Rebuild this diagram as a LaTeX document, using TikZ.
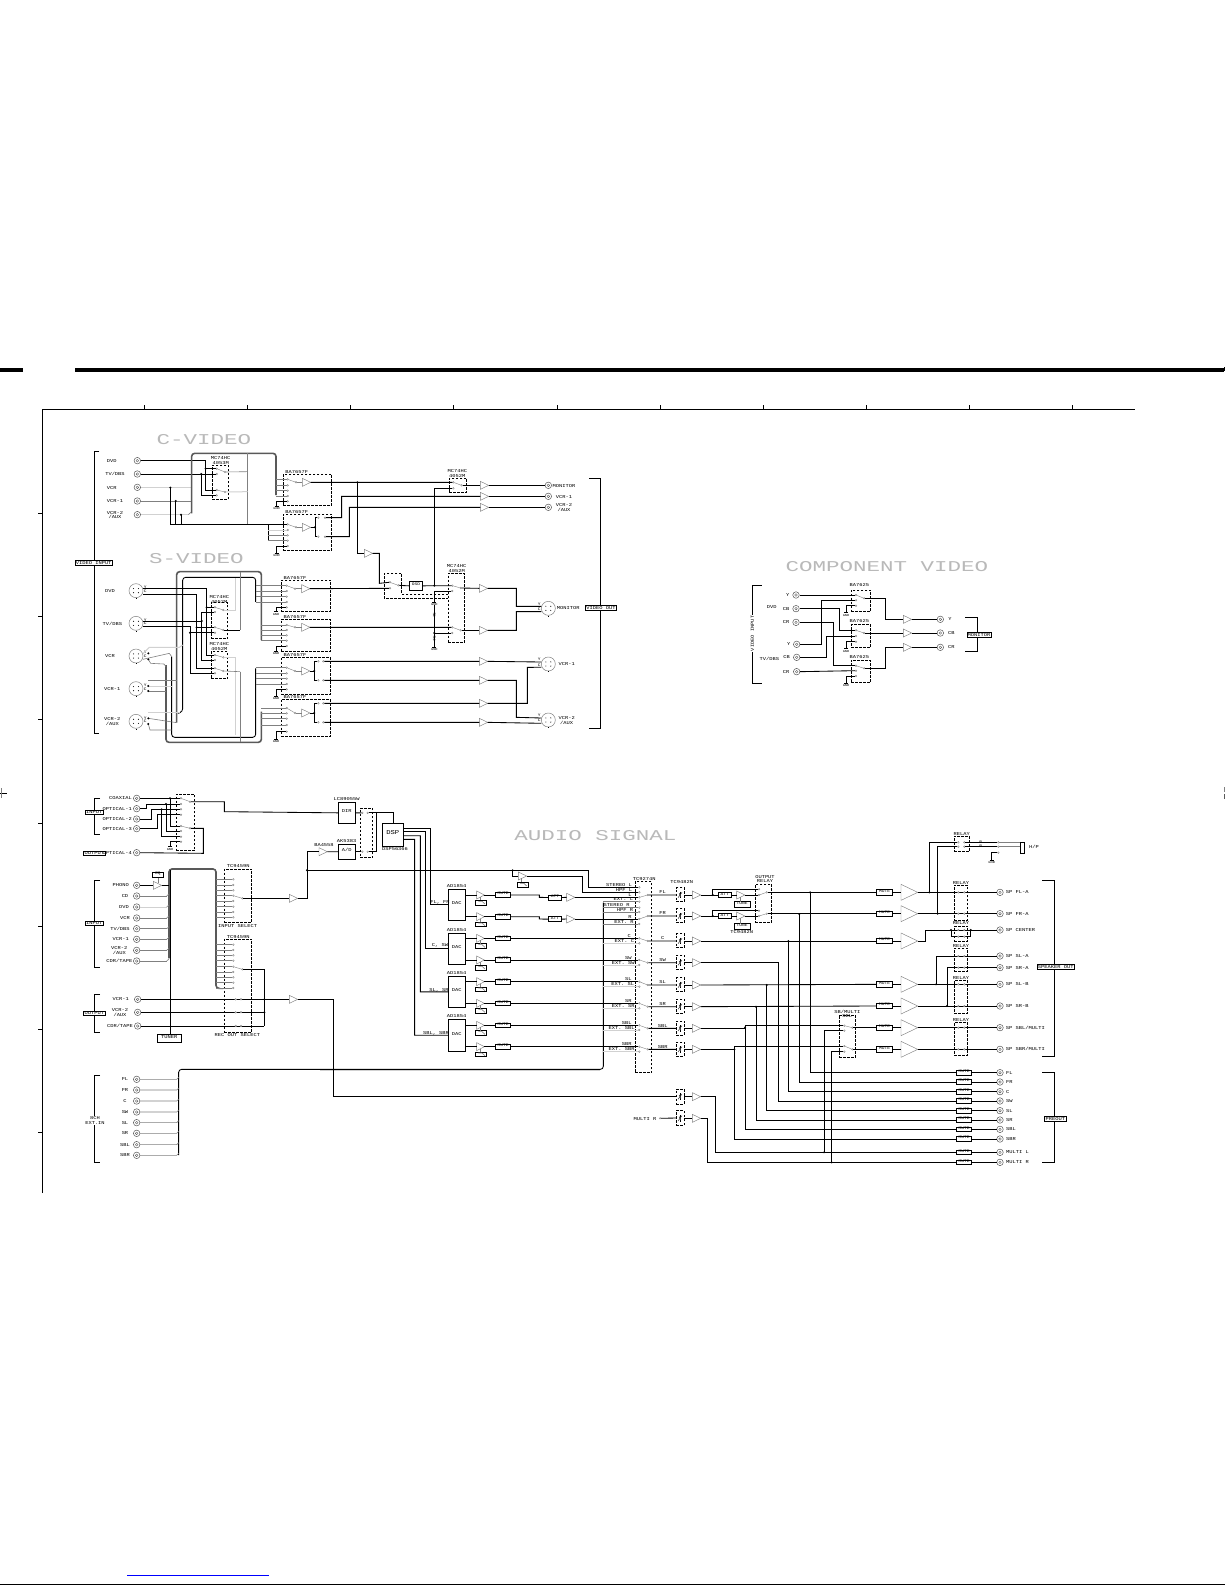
\documentclass[tikz,border=0pt]{standalone}
\usepackage{fontspec}
\usetikzlibrary{fit}
\setmainfont{Liberation Sans}
\newfontfamily\monof[FakeStretch=1.2]{Liberation Mono}
\newfontfamily\ttlf[FakeStretch=1.5]{Liberation Mono}
\newcommand\lblf{\fontsize{4.5}{4.4}\selectfont\monof}
\newcommand\smlf{\fontsize{3.8}{3.6}\selectfont\monof}
\definecolor{busc}{gray}{.35}
\definecolor{midg}{gray}{.5}
\definecolor{ligg}{gray}{.82}
\tikzset{
 Z/.style 2 args={shift={(#1pt,-#2pt)},x=.33333pt,y=-.33333pt},
 w/.style={line width=.85pt,black},
 wg/.style={line width=.6pt,midg},
 wl/.style={line width=1pt,ligg},
 busl/.style={line width=1.6pt,busc},
 busk/.style={line width=1.4pt,black},
 br/.style={line width=.8pt,black},
 db/.style={draw,dash pattern=on 2.6pt off 1.4pt,line width=.7pt,inner sep=0pt},
 sb/.style={draw,line width=.8pt,fill=white,inner sep=0pt,font=\lblf},
 tag/.style={draw,line width=.7pt,fill=white,inner sep=.8pt,font=\lblf},
 lbl/.style={inner sep=0pt,font=\lblf,align=center,black},
 lbs/.style={inner sep=0pt,font=\smlf,align=center,black},
 ttl/.style={inner sep=0pt,font=\fontsize{15}{15}\selectfont\ttlf,gray!55},
 jack/.style={circle,draw=busc,line width=.5pt,minimum size=6.5pt,inner sep=0pt,fill=white},
 jacki/.style={circle,draw=busc,line width=.4pt,minimum size=2.6pt,inner sep=0pt},
 sjack/.style={circle,draw=midg,line width=.5pt,minimum size=14pt,inner sep=0pt,fill=white},
 pinn/.style={circle,draw=midg,line width=.35pt,minimum size=1.7pt,inner sep=0pt,fill=white},
 arm/.style={line width=.4pt,midg},
 ampl/.style={line width=.45pt,draw=midg,fill=white},
}
\newcounter{lbn}
\newcommand\Lb[2]{\stepcounter{lbn}\node[lbl] (L\arabic{lbn}) at (#1) {#2};}
\newcommand\Ls[2]{\stepcounter{lbn}\node[lbs] (L\arabic{lbn}) at (#1) {#2};}
\newcommand\Jack[2]{\node[jack] (#1) at (#2) {}; \node[jacki] (#1i) at (#1) {};}
\newcommand\SJack[2]{\node[sjack] (#1) at (#2) {};
 \foreach \aa in {40,140,220,320}{\fill[black] ([shift={(\aa:3.2pt)}]#1.center) circle (.55pt);}
 \coordinate (#1Y) at ([shift={(7pt,2.3pt)}]#1.center);
 \coordinate (#1C) at ([shift={(7pt,-3.3pt)}]#1.center);
 \coordinate (#1y) at ([shift={(-7pt,2pt)}]#1.center);
 \coordinate (#1c) at ([shift={(-7pt,-3.3pt)}]#1.center);
 \draw[line width=.5pt] (#1.south) -- ++(0pt,-.8pt);}
\newcommand\Pin[2]{\node[pinn] (#1) at (#2) {};}
\newcommand\Dt[1]{\fill[black] (#1) circle (1.1pt);}
\newcommand\DBox[3]{\node[db,fit={(#2)(#3)}] (#1) {};}
\newcommand\BoxT[4]{\node[sb,fit={(#2)(#3)}] (#1) {#4};}
\newcommand\Amp[4]{\coordinate (#1i) at (#2);
 \draw[ampl] (#1i) ++(0pt,#3pt) -- ++(#4pt,-#3pt) -- ++(-#4pt,-#3pt) -- cycle;
 \coordinate (#1) at ([xshift=#4pt]#1i);}
\newcommand\Gnd[1]{\draw[line width=1pt] ([xshift=-2pt]#1) -- ([xshift=2pt]#1);
 \stepcounter{lbn}\node[inner sep=0pt,font=\fontsize{3}{3}\selectfont\monof] (L\arabic{lbn}) at ([yshift=-2.4pt]#1) {GND};}
\newcommand\VR[2]{\draw[line width=.5pt] (#1,#2-10) -- (#1,#2+10);
 \draw[line width=.5pt,black!80] (#1-6,#2+8) -- (#1+6,#2-8);
 \draw[line width=.9pt,black!70] (#1-2,#2-5) -- (#1+2,#2+5);}
\begin{document}
\begin{tikzpicture}[x=1pt,y=-1pt]
\useasboundingbox (0,0) rectangle (1225,1585);
\fill[white] (0,0) rectangle (1225,1585);
% page furniture
\fill[black] (0,368) rectangle (23,372);
\fill[black] (74.7,368) rectangle (1224,372);
\fill[black] (1223.5,367) rectangle (1225,371);
\draw[line width=1pt] (42.5,1193) -- (42.5,409.5) -- (1135,409.5);
\foreach \x in {144.5,247.5,350.5,453.7,557,660,763,866,969,1072.3}{\draw[line width=.9pt] (\x,405) -- (\x,409);}
\foreach \y in {513,616,719,823,926,1029,1132}{\draw[line width=.9pt] (38,\y) -- (42,\y);}
\draw[line width=.7pt] (0,793) -- (7,793);
\draw[line width=.8pt,midg] (1,788) -- (1,798);
\draw[line width=1pt,midg] (1224,787) -- (1224,792);
\draw[line width=1pt,busc] (1224,794) -- (1224,799);
\draw[blue,line width=1pt] (127,1575) -- (269,1575);
\draw[line width=1pt] (0,1584) -- (1225,1584);
\node[ttl] (tC) at (204,440) {C-VIDEO};
\node[ttl] (tS) at (196.5,559) {S-VIDEO};
\node[ttl] (tK) at (887,567) {COMPONENT VIDEO};
\node[ttl] (tA) at (595.5,836) {AUDIO SIGNAL};

%%%%%%%%%%%%%%%%%% VIDEO LEFT
\begin{scope}[Z={60}{410}]
\draw[br] (118,125) -- (103,125) -- (103,970) -- (118,970);
\foreach \n/\y/\t/\lx in {1/152/DVD/155,2/192/{TV/DBS}/165,3/232/VCR/155,4/273/VCR-1/165,5/314/{VCR-2\\/AUX}/165}{
 \Jack{cJ\n}{232,\y}\Lb{\lx,\y+1}{\t}}
\node[tag] (tVI) at (101,459) {VIDEO INPUT};
\DBox{cSw}{457,166}{505,268}\Lb{482,152}{MC74HC\\4053M}
\Pin{cP1}{470,176}\Pin{cP2}{470,192}\Pin{cP3}{470,240}\Pin{cP4}{470,256}\Pin{cO1}{495,186}\Pin{cO2}{495,246}
\draw[arm] (cP1)--(cO1); \draw[arm] (cP3)--(cO2);
\draw[w] (cJ1.east) -| (437,240) -- (cP3.west);
\draw[w] (437,176) -- (cP1.west); \Dt{437,176}
\draw[w] (cJ2.east) -- (cP2.west);
\draw[w] (424,192) |- (cP4.west); \Dt{424,192}
\draw[wl] (cJ3.east) -- (395,232);
\draw[wg] (cJ4.east) -- (395,273);
\draw[wl] (cJ5.east) -- (385,314);
\draw[wg] (385,314) -- (395,305);
\draw[busl,rounded corners=3pt] (395,310) -- (395,130) -- (648,130) -- (648,255);
\draw[wg] (563,130) -- (563,343);
\draw[wg] (cO1) -- (563,185);
\draw[wl] (cO2) -- (563,245);
\draw[w] (331,233) -- (331,343) -- (625,343);\Dt{331,233}
\draw[w] (347,273) -- (347,343);\Dt{347,273}
\draw[w] (363,314) -- (363,343);\Dt{363,314}
% C sw1
\DBox{vs1}{670,193}{815,287}\Lb{710,187}{BA7657F}
\foreach \i/\y in {1/208,2/226,3/242,4/258,5/274}{\Pin{vs1p\i}{683,\y}}
\foreach \i/\y in {1/208,2/226,3/242,4/258}{\draw[wg] (648,\y) -- (vs1p\i.west);}
\draw[w] (vs1p5.west) -- (650,274) -- (650,288); \Gnd{650,288}
\Pin{vs1o}{708,217}\draw[arm] (vs1p1)--(vs1o);
\Amp{va1}{727,217}{4}{8.3}\draw[arm] (vs1o)--(va1i);
% C sw2
\DBox{vs2}{670,312}{815,421}\Lb{710,305}{BA7657F}
\foreach \i/\y in {1/343,2/360,3/376,4/392,5/408}{\Pin{vs2p\i}{683,\y}}
\draw[w] (625,343) -- (vs2p1.west);
\draw[busk] (625,343) -- (625,392);
\draw[wl] (625,360) -- (vs2p2.west);
\draw[wg] (625,376) -- (vs2p3.west);
\draw[wg] (625,392) -- (vs2p4.west);
\draw[w] (vs2p5.west) -- (650,408) -- (650,430); \Gnd{650,430}
\Pin{vs2o}{708,352}\draw[arm] (vs2p1)--(vs2o);
\Amp{va2}{727,352}{4}{8.3}\draw[arm] (vs2o)--(va2i);
\Pin{vs2u}{775,323}\Pin{vs2v}{795,323}\Pin{vs2s}{775,380}\Pin{vs2t}{795,380}
\draw[w] (va2) -- (765,352) -- (765,323) -- (vs2u.west); \Dt{765,352}
\draw[w] (765,352) -- (765,380) -- (vs2s.west);
% S-video
\foreach \n/\y/\t/\lx in {1/542/DVD/150,2/640/{TV/DBS}/157,3/738/VCR/150,4/836/VCR-1/157,5/934/{VCR-2\\/AUX}/157}{
 \SJack{sJ\n}{228,\y}\Lb{\lx,\y+1}{\t}\Ls{256,\y-10}{Y}\Ls{256,\y+1}{C}}
\draw[busl,rounded corners=3pt] (350,938) -- (350,485) -- (604,485) -- (604,690);
\draw[busl,rounded corners=3pt] (318,765) -- (318,997) -- (604,997) -- (604,905);
\draw[w,rounded corners=3pt] (360,908) -- (368,905) -- (368,502) -- (587,502) -- (587,575);
\draw[w,rounded corners=3pt] (335,740) -- (335,982) -- (587,982) -- (587,775);
\draw[busk] (587,525) -- (587,575);
\draw[busk] (587,780) -- (587,825);
\draw[wg] (540,485) -- (540,660);
\draw[wg] (540,785) -- (540,997);
% s input switch
\DBox{sSa}{453,578}{503,686}\Lb{478,568}{MC74HC\\4052M}
\DBox{sSb}{453,725}{503,806}\Lb{478,710}{MC74HC\\4052M}
\foreach \n/\y in {a/592,b/606,c/652,d/668,e/735,f/750,g/775,h/790}{\Pin{sP\n}{465,\y}}
\Pin{sOa}{490,600}\Pin{sOb}{490,660}\Pin{sOc}{490,742}\Pin{sOd}{490,783}
\draw[arm](sPa)--(sOa);\draw[arm](sPc)--(sOb);\draw[arm](sPe)--(sOc);\draw[arm](sPg)--(sOd);
\draw[wl] (sOa) -- (525,600) -- (525,505);
\draw[w] (sOb) -- (540,660);
\draw[wl] (sOc) -- (525,742) -- (525,975);
\draw[wg] (sOd) -- (540,785);
\draw[w] (sJ1Y) -| (440,735) -- (sPe.west); \draw[w] (440,592) -- (sPa.west); \Dt{440,592}
\draw[w] (sJ1C) -| (410,775) -- (sPg.west); \draw[w] (410,652) -- (sPc.west); \Dt{410,652}
\draw[w] (sJ2Y) -| (425,750) -- (sPf.west); \draw[w] (425,633) -- (425,606) -- (sPb.west); \Dt{425,633}
\draw[w] (sJ2C) -| (390,790) -- (sPh.west); \draw[w] (390,668) -- (sPd.west); \Dt{390,668}
% vcr wiring
\draw[wl] (sJ3Y) -- (268,712) -- (358,712) -- (368,705);
\draw[wg] (sJ3C) -- (328,730) -- (335,740); \Dt{265,730}
\draw[wg] (265,748) -- (272,760) -- (312,762) -- (318,770); \Dt{265,748}
\draw[wg] (265,810) -- (350,810);
\draw[wl] (265,828) -- (335,828); \Dt{265,828}
\draw[wg] (265,843) -- (318,843); \Dt{265,843}
\draw[wl] (265,908) -- (360,908);
\draw[wg] (265,925) -- (350,938); \Dt{265,925}
\draw[wg] (265,942) -- (270,960) -- (335,960); \Dt{265,942}
% s switches
\DBox{vs3}{664,510}{812,604}\Lb{705,503}{BA7657F}
\foreach \i/\y in {1/527,2/543,3/560,4/576,5/592}{\Pin{vs3p\i}{680,\y}}
\foreach \i/\y in {1/527,2/543,3/560,4/576}{\draw[wg] (587,\y) -- (vs3p\i.west);}
\draw[w] (vs3p5.west) -- (648,592) -- (648,605); \Gnd{648,605}
\Pin{vs3o}{705,536}\draw[arm](vs3p1)--(vs3o);\Amp{va3}{725,536}{4}{8.3}\draw[arm](vs3o)--(va3i);
\DBox{vs4}{664,628}{812,724}\Lb{705,621}{BA7657F}
\foreach \i/\y in {1/645,2/660,3/676,4/692,5/708}{\Pin{vs4p\i}{680,\y}}
\foreach \i/\y in {1/645,2/660,3/676,4/692}{\draw[wg] (604,\y) -- (vs4p\i.west);}
\draw[w] (vs4p5.west) -- (648,708) -- (648,722); \Gnd{648,724}
\Pin{vs4o}{705,652}\draw[arm](vs4p1)--(vs4o);\Amp{va4}{725,652}{4}{8.3}\draw[arm](vs4o)--(va4i);
\DBox{vs5}{664,742}{812,853}\Lb{705,735}{BA7657F}
\foreach \i/\y in {1/773,2/790,3/806,4/822,5/838}{\Pin{vs5p\i}{680,\y}}
\foreach \i/\y in {1/773,2/790,3/806,4/822}{\draw[wg] (587,\y) -- (vs5p\i.west);}
\draw[w] (vs5p5.west) -- (648,838) -- (648,858); \Gnd{648,858}
\Pin{vs5o}{705,783}\draw[arm](vs5p1)--(vs5o);\Amp{va5}{725,783}{4}{8.3}\draw[arm](vs5o)--(va5i);
\Pin{vs5u}{775,754}\Pin{vs5v}{790,754}\Pin{vs5s}{775,811}\Pin{vs5t}{790,811}
\draw[w] (va5) -- (763,783) -- (763,754) -- (vs5u.west);\Dt{763,783}
\draw[w] (763,783) -- (763,811) -- (vs5s.west);
\DBox{vs6}{664,868}{812,979}\Lb{705,861}{BA7657F}
\foreach \i/\y in {1/894,2/910,3/926,4/945,5/965}{\Pin{vs6p\i}{680,\y}}
\foreach \i/\y in {1/894,2/910,3/926,4/945}{\draw[wg] (604,\y) -- (vs6p\i.west);}
\draw[w] (vs6p5.west) -- (648,965) -- (648,988); \Gnd{648,988}
\Pin{vs6o}{705,909}\draw[arm](vs6p1)--(vs6o);\Amp{va6}{725,909}{4}{8.3}\draw[arm](vs6o)--(va6i);
\Pin{vs6u}{775,880}\Pin{vs6v}{790,880}\Pin{vs6s}{775,937}\Pin{vs6t}{790,937}
\draw[w] (va6) -- (763,909) -- (763,880) -- (vs6u.west);\Dt{763,909}
\draw[w] (763,909) -- (763,937) -- (vs6s.west);
\end{scope}

%%%%%%%%%%%%%%%%%% VIDEO RIGHT
\begin{scope}[Z={340}{450}]
\DBox{mSw}{328,85}{380,128}\Lb{352,70}{MC74HC\\4052M}
\Pin{mA}{340,97}\Pin{mB}{340,115}\Pin{mO}{365,106}
\draw[arm](mA)--(mO);
\Amp{ma1}{421,106}{4}{8.3}\draw[w] (mO) -- (ma1i);
\Amp{ma2}{421,139}{4}{8.3}\Amp{ma3}{421,172}{4}{8.3}
\foreach \n/\y/\t in {1/106/MONITOR,2/139/VCR-1,3/172/{VCR-2\\/AUX}}{
 \Jack{oJ\n}{625,\y}\Lb{672,\y+1}{\t}\draw[w] (ma\n) -- (oJ\n.west);}
\draw[w] (va1) -- (mA.west);
\Dt{52,97}
\draw[w] (vs2v) -- (5,203) -- (5,139) -- (ma2i);
\draw[w] (vs2t) -- (28,260) -- (28,172) -- (ma3i);
\Amp{ka}{73,310}{4}{8.3}
\draw[w] (52,97) -- (52,310) -- (kai);
\Pin{lsA}{150,397}\Pin{lsB}{150,415}\Pin{lsO}{175,406}
\draw[arm](lsA)--(lsO);
\draw[w] (ka) -- (118,310) -- (118,400) -- (lsA.west);
\draw[w] (va3) -- (lsB.west);
\BoxT{osd}{208,394}{248,421}{\smlf OSD}
\draw[w] (lsO) -- (osd.west);
\DBox{moS}{325,370}{374,577}
\draw[line width=.7pt,dash pattern=on 2.6pt off 1.4pt] (325,433) -- (185,433) -- (185,370) -- (133,370) -- (133,445) -- (325,445);
\Lb{350,355}{MC74HC\\4052M}
\Pin{moA}{337,407}\Pin{moB}{337,423}\Pin{moC}{337,532}\Pin{moD}{337,549}\Pin{moE}{362,414}\Pin{moF}{362,541}
\draw[arm](moA)--(moE);\draw[arm](moC)--(moF);
\draw[w] (osd.east) -- (moA.west); \Dt{283,407}
\draw[w] (283,407) -- (283,115) -- (mB.west);
\draw[w] (moB.west) -- (283,423) -- (283,455); \Gnd{283,456}
\draw[line width=.6pt] (283,466) -- (283,592); \Gnd{283,592}
\Ls{283,495}{\rotatebox{90}{75}}\Ls{283,565}{\rotatebox{90}{75}}
\Dt{283,549}
\draw[w] (283,549) -- (moD.west);
\draw[w] (va4) -- (moC.west);
\foreach \n/\y in {1/415,2/541,3/634,4/691,5/760,6/817}{\Amp{mb\n}{418,\y}{4}{8.3}}
\draw[w] (moE) -- (mb1i); \draw[w] (moF) -- (mb2i);
\draw[w] (vs5v) -- (mb3i); \draw[w] (vs5t) -- (mb4i);
\draw[w] (vs6v) -- (mb5i); \draw[w] (vs6t) -- (mb6i);
\SJack{oS1}{625,475}\SJack{oS2}{625,642}\SJack{oS3}{625,810}
\Lb{685,475}{MONITOR}\Lb{680,643}{VCR-1}\Lb{680,811}{VCR-2\\/AUX}
\Ls{598,462}{Y}\Ls{598,478}{C}\Ls{598,628}{Y}\Ls{598,645}{C}\Ls{598,796}{Y}\Ls{598,812}{C}
\draw[w] (mb1) -- (529,415) -- (529,469) -- (oS1y);
\draw[w] (mb2) -- (529,541) -- (529,485) -- (oS1c);
\draw[w] (mb3) -- (oS2y);
\draw[w] (mb5) -- (562,760) -- (562,652) -- (oS2c);
\draw[w] (mb4) -- (529,691) -- (529,802) -- (oS3y);
\draw[w] (mb6) -- (oS3c);
\draw[br] (748,85) -- (780,85) -- (780,835) -- (748,835);
\node[tag] (tVO) at (783,473) {VIDEO OUT};
\end{scope}

%%%%%%%%%%%%%%%%%% COMPONENT
\begin{scope}[Z={740}{550}]
\draw[br] (65,105) -- (37,105) -- (37,400) -- (65,400);
\node[fill=white,inner sep=1pt,font=\lblf,rotate=90] (tKI) at (37,250) {VIDEO INPUT};
\foreach \n/\y/\t/\lx in {1/135/Y/143,2/176/CB/138,3/217/CR/138}{\Jack{kJ\n}{168,\y}\Lb{\lx,\y}{\t}}
\foreach \n/\y/\t/\lx in {4/283/Y/146,5/322/CB/140,6/365/CR/138}{\Jack{kJ\n}{170,\y}\Lb{\lx,\y}{\t}}
\Lb{95,172}{DVD}\Lb{88,327}{TV/DBS}
\foreach \n/\a/\b/\c/\d/\e/\f/\l in {1/120/185/135/151/167/145/106,2/224/293/241/258/275/249/212,3/330/397/347/362/378/355/320}{
 \DBox{kS\n}{333,\a}{391,\b}\Lb{358,\l}{BA7625}
 \Pin{kP\n a}{348,\c}\Pin{kP\n b}{348,\d}\Pin{kP\n c}{348,\e}\Pin{kO\n}{372,\f}
 \draw[arm](kP\n a)--(kO\n);
 \draw[w] (kP\n c.west) -- (318,\e) -- (318,\b+2); \Gnd{318,\b+3}}
\draw[w] (kJ1.east) -- (kP1a.west);
\draw[w] (kJ4.east) -- (245,283) -- (245,151) -- (kP1b.west);
\draw[w] (kJ2.east) -- (299,176) -- (299,241) -- (kP2a.west);
\draw[w] (kJ5.east) -- (260,322) -- (260,258) -- (kP2b.west);
\draw[w] (kJ3.east) -- (281,217) -- (281,347) -- (kP3a.west);
\draw[w] (kJ6.east) -- (kP3b.west);
\foreach \n/\y/\t/\lx in {1/208/Y/630,2/249/CB/634,3/292/CR/634}{
 \Amp{kA\n}{490,\y}{4}{8.3}\Jack{kQ\n}{601,\y}\Lb{\lx,\y}{\t}\draw[w] (kA\n) -- (kQ\n.west);}
\draw[w] (kO1) -- (437,145) -- (437,208) -- (kA1i);
\draw[w] (kO2) -- (kA2i);
\draw[w] (kO3) -- (437,355) -- (437,292) -- (kA3i);
\draw[br] (675,202) -- (712,202) -- (712,305) -- (675,305);
\node[tag] (tKM) at (717,254) {MONITOR};
\end{scope}

%%%%%%%%%%%%%%%%%% AUDIO MID (zoom frame 320,790)
\begin{scope}[Z={320}{790}]
\BoxT{dir}{55,37}{105,100}{DIR}\Lb{80,27}{LC89055W}
\BoxT{ad}{55,162}{105,208}{A/D}\Lb{80,153}{AK5383}
\DBox{dsw}{120,55}{158,203}
\Pin{dsA}{127,68.5}\Pin{dsB}{143,68.5}\Pin{dsC}{127,185}\Pin{dsD}{143,185}
\BoxT{dsp}{187,100}{250,168}{\fontsize{6}{6}\selectfont\monof DSP}\Lb{225,177}{DSP56366}
\draw[w] (dir.east) -- (dsA); \draw[w] (dsB) -- (220,68.5) -- (220,100);
\draw[w] (ad.east) -- (dsC); \draw[w] (dsD) -- (170,185) -- (170,68.5);
\foreach \n/\a/\b in {1/298/390,2/430/522,3/559/652,4/688/783}{
 \BoxT{dac\n}{385,\a}{435,\b}{DAC}\Lb{410,\a-11}{AD1854}}
\draw[w] (250,115) -| (332,344) -- (dac1.west);
\draw[w] (250,125) -| (317,476) -- (dac2.west);
\draw[w] (250,137) -| (301,605.5) -- (dac3.west);
\draw[w] (250,148) -| (284,735.5) -- (dac4.west);
\Lb{360,338}{FL, FR}\Lb{360,467}{C, SW}\Lb{357,600}{SL, SR}\Lb{348,730}{SBL, SBR}
\DBox{sel}{945,275}{995,848}\Lb{973,267}{TC9274N}
\foreach \n/\y/\t/\lx in {1/292/{STEREO L}/897,2/307/{HPF L}/912,3/322/L/930,4/335/{EXT. L}/910,5/353/{STEREO R}/890,6/366/{HPF R}/915,7/387/R/930,8/402/{EXT. R}/912,9/445/C/928,10/460/{EXT. C}/913,11/510/SW/925,12/525/{EXT. SW}/910,13/575/SL/925,14/590/{EXT. SL}/908,15/640/SR/925,16/655/{EXT. SR}/910,17/706/SBL/920,18/720/{EXT. SBL}/905,19/770/SBR/920,20/785/{EXT. SBR}/905}{
 \Pin{sl\n}{958,\y}\Lb{\lx,\y-6.5}{\t}}
\foreach \n/\p/\y in {1/3/315,2/7/378,3/9/453,4/11/518,5/13/585,6/15/650,7/17/715,8/19/778}{
 \Pin{so\n}{983,\y}\draw[arm](sl\p)--(so\n);}
\foreach \n/\y in {1/315,2/380,3/445,4/510,5/575,6/640,7/706,8/770}{
 \Amp{da\n}{470,\y}{4}{7.7}
 \BoxT{fb\n}{467,\y+16}{500,\y+30}{}
 \draw[wg] (475,\y+19) -- (486,\y+19) -- (495,\y+27);
 \draw[wg] (480,\y+6) -- (480,\y+16);
 \BoxT{dm\n}{527,\y-7}{572,\y+7}{\smlf MUTE}
 \draw[w] (da\n) -- (dm\n.west);
 \draw[w] (435,\y) -- (da\n i);}
\BoxT{att1}{685,315}{725,330}{\smlf ATT}\BoxT{att2}{685,380}{725,395}{\smlf ATT}
\Amp{ab1}{740,322}{4}{8.3}\Amp{ab2}{740,387}{4}{8.3}
\draw[w] (dm1.east) -- (658,315) -- (658,322) -- (att1.west); \draw[w] (att1.east) -- (ab1i); \draw[w] (ab1) -- (sl3.west);
\draw[w] (dm2.east) -- (658,380) -- (658,387) -- (att2.west); \draw[w] (att2.east) -- (ab2i); \draw[w] (ab2) -- (sl7.west);
\draw[w] (dm3.east) -- (sl9.west); \draw[w] (dm4.east) -- (sl11.west); \draw[w] (dm5.east) -- (sl13.west);
\draw[w] (dm6.east) -- (sl15.west); \draw[w] (dm7.east) -- (sl17.west); \draw[w] (dm8.east) -- (sl19.west);
% ext bus
\draw[w,rounded corners=3pt] (-424,1095) -- (-424,838) -- (850,838) -- (850,338);
\draw[busk] (850,828) -- (850,345);
\draw[wl] (0,841) -- (840,841);
\draw[wg] (850,335) -- (sl4.west); \draw[wg] (850,353) -- (sl5.west); \draw[wg] (850,366) -- (sl6.west); \draw[wg] (850,402) -- (sl8.west);
\draw[wl] (850,460) -- (sl10.west); \draw[wl] (850,525) -- (sl12.west); \draw[wl] (850,590) -- (sl14.west);
\draw[wl] (850,655) -- (sl16.west); \draw[wl] (850,720) -- (sl18.west); \draw[wl] (850,785) -- (sl20.west);
% stereo / hpf
\draw[w] (-39,241) -- (805,241) -- (805,292) -- (sl1.west);
\Dt{578,241}
\Amp{hp}{595,258}{4}{8.3}
\draw[w] (578,241) -- (578,258) -- (hpi);
\draw[w] (hp) -- (788,258) -- (788,307) -- (sl2.west);
\BoxT{hpf}{592,276}{625,292}{}
\draw[wg] (600,280) -- (612,280) -- (620,288);
\draw[wg] (605,264) -- (605,276);
\end{scope}

%%%%%%%%%%%%%%%%%% AUDIO LEFT (zoom frame 70,780)
\begin{scope}[Z={70}{780}]
\draw[br] (90,55) -- (73,55) -- (73,163) -- (90,163);
\node[tag] (tI1) at (73,97) {INPUT};
\node[tag] (tO1) at (73,220) {OUTPUT};
\foreach \n/\y/\t in {1/55/COAXIAL,2/86/OPTICAL-1,3/117/OPTICAL-2,4/146/OPTICAL-3,5/218/OPTICAL-4}{
 \Jack{dJ\n}{200,\y}\node[lbl,anchor=east] (dT\n) at (186,\y) {\t};}
\DBox{dSw}{318,43}{374,212}
\foreach \n/\y in {a/55,b/72,c/88,d/104,e/138,f/153,g/170,h/185}{\Pin{dP\n}{333,\y}}
\Pin{dOa}{360,65}\Pin{dOb}{360,145}\draw[arm](dPa)--(dOa);\draw[arm](dPe)--(dOb);
\draw[w] (dJ1.east) -- (dPa.west);
\draw[w] (300,55) -- (300,138) -- (dPe.west);\Dt{300,55}
\draw[w] (dJ2.east) -- (228,86) -- (228,72) -- (dPb.west);
\draw[w] (288,72) -- (288,153) -- (dPf.west);\Dt{288,72}
\draw[w] (dJ3.east) -- (245,117) -- (245,88) -- (dPc.west);
\draw[w] (275,88) -- (275,170) -- (dPg.west);\Dt{275,88}
\draw[w] (dJ4.east) -- (262,146) -- (262,104) -- (dPd.west);
\draw[w] (dPh.west) -- (300,185) -- (300,200); \Gnd{300,200}
\draw[w] (dOa) -- (463,65) -- (463,95) -- (dir.west);
\draw[w] (dOb) -- (400,145) -- (400,220) -- (dJ5.east);
% analog input
\draw[br] (90,302) -- (73,302) -- (73,561) -- (90,561);
\node[tag] (tI2) at (73,430) {INPUT};
\foreach \n/\y/\t/\lx in {1/316/PHONO/152,2/348/CD/165,3/381/DVD/162,4/414/VCR/165,5/446/{TV/DBS}/150,6/478/VCR-1/152,7/511/{VCR-2\\/AUX}/148,8/543/{CDR/TAPE}/148}{
 \Jack{aJ\n}{200,\y}\Lb{\lx,\y}{\t}}
\draw[busl,rounded corners=3pt] (297,535) -- (297,267) -- (438,267) -- (438,625) -- (445,625);
\Amp{pa}{250,316}{4}{8.3}
\draw[w] (aJ1.east) -- (pai);
\draw[w] (pa) -- (297,316);
\BoxT{eq}{248,278}{280,292}{\smlf EQ}
\draw[wg] (eq.south) -- (264,309);
\foreach \n/\y/\c in {2/348/wg,3/381/wl,4/414/wg,5/446/wg,6/478/wg,7/511/wg,8/543/wg}{
 \draw[\c] (aJ\n.east) -- (290,\y);\draw[wg] (290,\y) -- (297,\y-6);}
\BoxT{tun}{262,764}{334,788}{TUNER}
\draw[w] (300,270) -- (300,764);
\DBox{is1}{463,267}{545,428}\Lb{505,259}{TC9459N}\Lb{503,438}{INPUT SELECT}
\foreach \n/\y in {1/298,2/315,3/331,4/347,5/363,6/380,7/396,8/412}{\Pin{iP\n}{490,\y}\draw[wg] (438,\y) -- (iP\n.west);}
\Pin{iO}{517,355}\draw[arm](iP4)--(iO);
\DBox{is2}{463,477}{545,758}\Lb{505,470}{TC9459N}\Lb{502,765}{REC OUT SELECT}
\foreach \n/\y in {1/494,2/510,3/526,4/542,5/560,6/576,7/592,8/608,9/624}{\Pin{rP\n}{490,\y}\draw[wg] (438,\y) -- (rP\n.west);}
\Pin{rO}{517,568}\draw[arm](rP5)--(rO);
\Amp{ia}{658,355}{4}{8.3}\draw[w] (iO) -- (iai);
\draw[w] (ia) -- (711,355) -- (711,215);\Dt{711,271}
\Amp{ra}{747,215}{4}{8.3}\draw[w] (711,215) -- (rai);
\draw[w] (ra) -- (ad.west);\Lb{762,196}{BA4558}
% rec output
\draw[br] (90,644) -- (73,644) -- (73,756) -- (90,756);
\node[tag] (tO2) at (73,700) {OUTPUT};
\foreach \n/\y/\t/\lx in {1/658/VCR-1/152,2/697/{VCR-2\\/AUX}/150,3/738/{CDR/TAPE}/150}{
 \Jack{rJ\n}{203,\y}\Lb{\lx,\y}{\t}}
\draw[w] (rJ1.east) -- (583,658);\draw[w] (rJ2.east) -- (583,697);\draw[w] (rJ3.east) -- (583,738);
\draw[w] (rO) -- (583,568) -- (583,738);\Dt{583,658}\Dt{583,697}
\foreach \n/\y in {1/658,2/697,3/738}{\Pin{rK\n}{497,\y}\Pin{rL\n}{513,\y}}
\Amp{rr}{658,658}{4}{8.3}\draw[w] (583,658) -- (rri);
\coordinate (recA) at (rr);
% ext
\draw[br] (90,887) -- (73,887) -- (73,1146) -- (90,1146);
\node[fill=white,inner sep=1pt,font=\lblf,align=center] (tEX) at (75,1021) {8CH\\EXT.IN};
\foreach \n/\y/\t/\lx in {1/898/FL/165,2/930/FR/165,3/963/C/165,4/996/SW/165,5/1028/SL/165,6/1060/SR/165,7/1094/SBL/165,8/1126/SBR/165}{
 \Jack{eJ\n}{200,\y}\Lb{\lx,\y}{\t}
 \draw[wg] (eJ\n.east) -- (320,\y) -- (326,\y-6);}
\draw[wl] (eJ2.east) -- (310,930);
\end{scope}

%%%%%%%%%%%%%%%%%% OUTPUT (zoom frame 850,830)
\begin{scope}[Z={850}{830}]
\foreach \n/\y in {1/187,2/251,3/333,5/463,6/528,7/593,8/658}{
 \BoxT{mt\n}{80,\y-8}{128,\y+8}{\smlf MUTE}
 \Amp{bg\n}{153,\y}{8}{16.7}
 \draw[w] (mt\n.east) -- (bg\n i);}
\foreach \k/\y/\t in {a/187/{SP FL-A},b/251/{SP FR-A},c/300/{SP CENTER},d/378/{SP SL-A},e/413/{SP SR-A},f/463/{SP SL-B},g/528/{SP SR-B},h/593/{SP SBL/MULTI},i/658/{SP SBR/MULTI}}{
 \Jack{qJ\k}{450,\y}\node[lbl,anchor=west] (qT\k) at (467,\y) {\t};}
\draw[w] (bg1) -- (qJa.west); \draw[w] (bg2) -- (qJb.west);
\draw[w] (bg5) -- (qJf.west); \draw[w] (bg6) -- (qJg.west);
\draw[w] (bg7) -- (qJh.west); \draw[w] (bg8) -- (qJi.west);
\draw[w] (bg3) -- (225,333) -- (225,300) -- (qJc.west);
\draw[w] (303,300) -- (303,320) -- (362,320) -- (362,300); \Dt{303,300}\Dt{362,300}
\Dt{238,187}\Dt{263,251}\Dt{258,463}\Dt{291,528}
\draw[w] (258,463) -- (258,378) -- (qJd.west);
\draw[w] (291,528) -- (291,413) -- (qJe.west);
\DBox{rl0}{313,18}{358,65}\DBox{rl1}{313,165}{353,270}\DBox{rl2}{313,288}{353,335}
\DBox{rl3}{313,355}{353,425}\DBox{rl4}{313,452}{353,550}\DBox{rl5}{313,578}{353,677}
\foreach \x/\y in {335/11,333/158,333/280,333/348,333/443,333/571}{\Lb{\x,\y}{RELAY}}
\foreach \n/\y in {a/187,b/251,c/300,d/320,e/378,f/413,g/528,h/593,i/658,j/463}{\Pin{yA\n}{325,\y}\Pin{yB\n}{343,\y}}
\Pin{yAk}{325,37}\Pin{yBk}{343,37}\Pin{yAl}{325,50}\Pin{yBl}{343,50}
% headphones
\Pin{hpA}{445,37}\Pin{hpB}{445,50}\Pin{hpC}{445,68}
\draw[w] (238,187) -- (238,37) -- (yAk.west);
\draw[w] (263,251) -- (263,50) -- (yAl.west);
\draw[w] (yBk) -- (hpA.west); \draw[w] (yBl) -- (hpB.west);
\draw[wg] (hpA) -- (512,37); \draw[wg] (hpB) -- (512,50);
\Ls{392,37}{R}\Ls{392,50}{R}
\node[draw,line width=.7pt,inner sep=0pt,fit={(512,37)(524,70)}] (hpj) {};
\draw[w] (hpC.west) -- (425,68) -- (425,90); \Gnd{425,90}
\Lb{552,52}{H/P}
\draw[br] (577,152) -- (613,152) -- (613,678) -- (577,678);
\node[tag] (tSP) at (617,411) {SPEAKER OUT};
\foreach \n/\y/\t in {1/728/FL,2/756/FR,3/785/C,4/813/SW,5/842/SL,6/870/SR,7/898/SBL,8/927/SBR,9/967/{MULTI L},10/997/{MULTI R}}{
 \BoxT{pm\n}{320,\y-7}{365,\y+7}{\smlf MUTE}
 \Jack{pJ\n}{450,\y}\node[lbl,anchor=west] (pT\n) at (468,\y) {\t};
 \draw[w] (pm\n.east) -- (pJ\n.west);}
\draw[br] (577,727) -- (613,727) -- (613,997) -- (577,997);
\node[tag] (tPO) at (616,867) {PREOUT};
\end{scope}

%%%%%%%%%%%%%%%%%% VOLUME ETC (zoom frame 600,830)
\begin{scope}[Z={600}{830}]
\Lb{245,155}{TC9482N}
\foreach \n/\y/\t in {1/195/FL,2/258/FR,3/333/C,4/398/SW,5/465/SL,6/530/SR,7/595/SBL,8/658/SBR}{
 \DBox{vr\n}{229,\y-22}{253,\y+20}
 \Amp{rw\n}{277,\y}{4}{8.3}
 \draw[w] (so\n) -- (230,\y); \draw[w] (253,\y) -- (rw\n i);
 \VR{240}{\y}
 \Lb{188,\y-8}{\t}}
\DBox{vr9}{229,778}{253,822}\DBox{vr10}{229,842}{253,886}
\VR{240}{800}\VR{240}{865}
\Amp{rw9}{277,800}{4}{8.3}\Amp{rw10}{277,865}{4}{8.3}
\draw[w] (253,800) -- (rw9i); \draw[w] (253,865) -- (rw10i);
\draw[w] (recA) -| (-800,800) -- (vr9.west);
\Lb{135,866}{MULTI R}\Pin{mIn}{180,865}\draw[w] (mIn) -- (vr10.west);
% tone section
\DBox{tsw}{465,163}{515,277}\Lb{495,147}{OUTPUT\\RELAY}
\Pin{ta}{477,178}\Pin{tb}{477,195}\Pin{tc}{477,242}\Pin{td}{477,258}\Pin{te}{500,187}\Pin{tf}{500,251}
\draw[arm](tb)--(te);\draw[arm](td)--(tf);
\foreach \n/\y in {1/195,2/258}{
 \BoxT{tt\n}{356,\y-8}{393,\y+8}{\smlf ATT}
 \Amp{tm\n}{410,\y}{4}{8.3}
 \draw[w] (rw\n) -- (tt\n.west); \draw[w] (tt\n.east) -- (tm\n i);}
\draw[w] (tm1) -- (tb.west); \draw[w] (tm2) -- (td.west);
\draw[w] (338,195) -- (338,178) -- (ta.west); \Dt{338,195}
\draw[w] (338,258) -- (338,242) -- (tc.west); \Dt{338,258}
\BoxT{tn1}{403,215}{450,232}{\smlf TONE}\BoxT{tn2}{403,281}{450,298}{\smlf TONE}
\draw[wg] (422,201) -- (422,215); \draw[wg] (422,264) -- (422,281);
\Lb{425,305}{TC9482N}
% to mutes
\draw[w] (te) -- (mt1.west); \draw[w] (tf) -- (mt2.west);
\draw[w] (rw3) -- (mt3.west);
\draw[w] (rw5) -- (mt5.west); \draw[w] (rw6) -- (mt6.west);
\Dt{630,187}\Dt{598,252}\Dt{565,333}\Dt{500,465}\Dt{468,530}
\draw[w] (630,187) |- (pm1.west);
\draw[w] (598,252) |- (pm2.west);
\draw[w] (565,333) |- (pm3.west);
\draw[w] (rw4) -- (535,398) |- (pm4.west);
\draw[w] (500,465) |- (pm5.west);
\draw[w] (468,530) |- (pm6.west);
% surround back
\DBox{sbs}{718,555}{766,683}\Lb{742,552}{SB/MULTI\\SEL}
\Pin{sa}{733,587}\Pin{sb}{733,602}\Pin{sc}{733,648}\Pin{sd}{733,665}\Pin{se}{757,593}\Pin{sf}{757,658}
\draw[arm](sa)--(se);\draw[arm](sc)--(sf);
\draw[w] (rw7) -- (435,595) -- (435,587) -- (sa.west); \Dt{435,592}
\draw[w] (rw8) -- (403,658) -- (403,648) -- (sc.west); \Dt{403,658}
\draw[w] (435,592) |- (pm7.west);
\draw[w] (403,658) |- (pm8.west);
\draw[w] (se) -- (mt7.west); \draw[w] (sf) -- (mt8.west);
\draw[w] (rw9) -- (345,800) |- (pm9.west);
\draw[w] (rw10) -- (322,865) |- (pm10.west);
\Dt{672,967}\Dt{695,997}
\draw[w] (672,967) |- (sb.west);
\draw[w] (695,997) |- (sd.west);
\end{scope}
\end{tikzpicture}
\end{document}
